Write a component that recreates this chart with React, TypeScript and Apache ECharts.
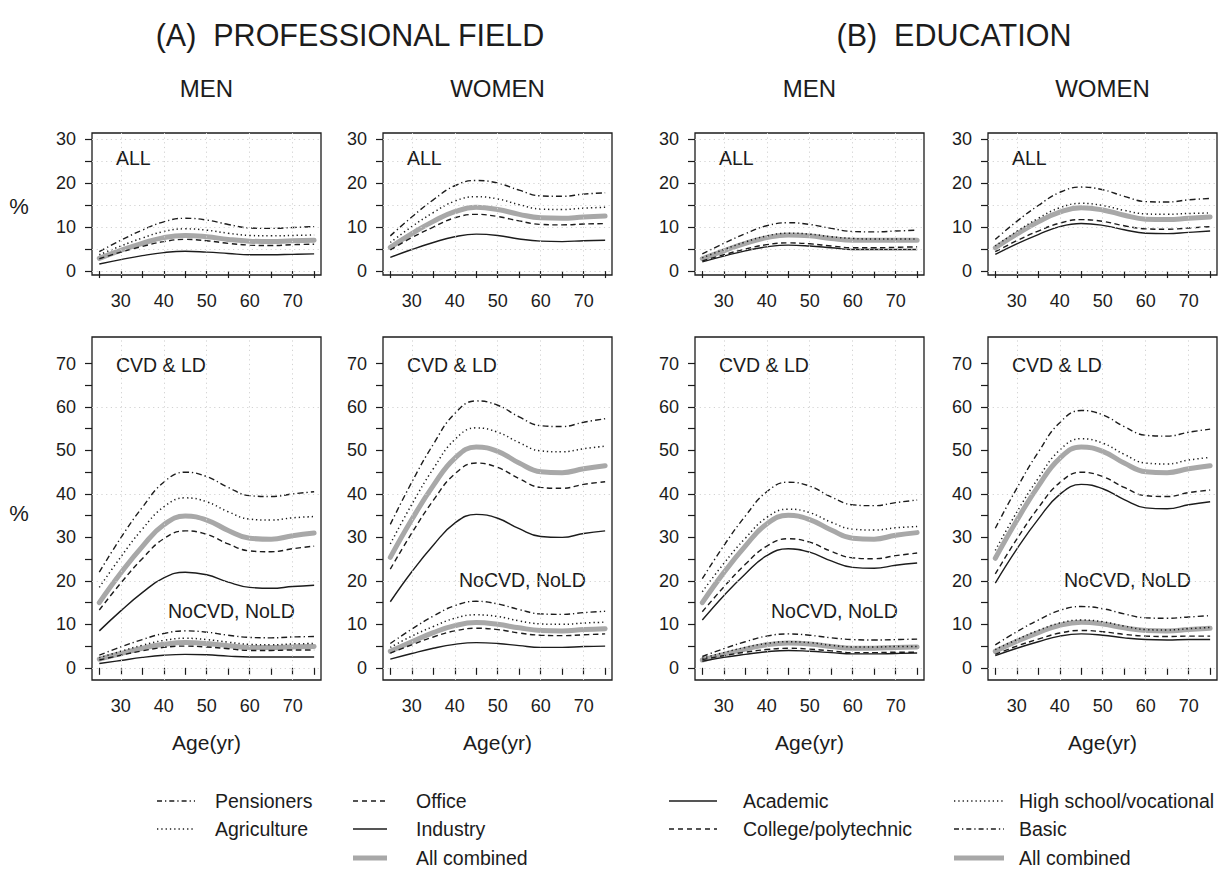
import React, { useEffect, useRef } from 'react';
import * as echarts from 'echarts';

// ---------------- DATA ----------------
const ages = [25, 30, 35, 40, 45, 50, 55, 60, 65, 70, 75];

const profGroups = ['Pensioners', 'Agriculture', 'Office', 'Industry', 'All combined'];
const eduGroups = ['Basic', 'High school/vocational', 'College/polytechnic', 'Academic', 'All combined'];

// (A) Professional field. Order: Pensioners, Agriculture, Office, Industry, All combined
const profMenAll = [
  [4.4, 7.0, 9.3, 11.2, 12.0, 11.6, 10.6, 9.8, 9.7, 9.9, 10.1],
  [3.7, 5.7, 7.5, 9.0, 9.6, 9.3, 8.6, 8.1, 8.0, 8.1, 8.2],
  [2.8, 4.3, 5.6, 6.7, 7.2, 6.9, 6.3, 5.9, 5.8, 6.0, 6.1],
  [1.6, 2.6, 3.5, 4.2, 4.5, 4.3, 4.0, 3.7, 3.7, 3.8, 3.9],
  [2.9, 4.7, 6.3, 7.6, 8.1, 7.8, 7.2, 6.8, 6.7, 6.9, 7.0],
];
const profWomenAll = [
  [8.0, 12.3, 16.2, 19.4, 20.6, 20.0, 18.4, 17.1, 17.0, 17.5, 17.8],
  [6.5, 10.1, 13.3, 15.9, 16.9, 16.4, 15.1, 14.1, 14.0, 14.3, 14.5],
  [4.8, 7.6, 10.0, 12.1, 12.9, 12.4, 11.4, 10.6, 10.5, 10.7, 10.8],
  [3.1, 4.9, 6.5, 7.8, 8.4, 8.1, 7.3, 6.8, 6.7, 6.9, 7.0],
  [5.4, 8.5, 11.3, 13.5, 14.5, 14.0, 12.9, 12.1, 12.0, 12.3, 12.5],
];
const profMenCvd = [
  [22.0, 29.9, 36.9, 42.7, 45.0, 44.0, 41.5, 39.6, 39.4, 40.0, 40.5],
  [18.5, 25.5, 31.9, 37.0, 39.1, 38.2, 35.9, 34.2, 34.0, 34.5, 34.8],
  [13.3, 19.5, 25.1, 29.7, 31.5, 30.7, 28.5, 26.9, 26.7, 27.4, 28.0],
  [8.5, 13.1, 17.3, 20.7, 22.0, 21.4, 19.7, 18.5, 18.3, 18.7, 19.0],
  [15.0, 21.8, 27.9, 32.9, 34.9, 34.0, 31.6, 29.8, 29.6, 30.4, 31.0],
];
const profMenNo = [
  [2.9, 4.8, 6.5, 7.9, 8.5, 8.2, 7.5, 7.0, 6.9, 7.1, 7.2],
  [2.3, 3.8, 5.2, 6.3, 6.8, 6.5, 5.9, 5.4, 5.3, 5.5, 5.6],
  [1.8, 2.9, 3.9, 4.7, 5.0, 4.8, 4.4, 4.0, 4.0, 4.1, 4.1],
  [1.0, 1.7, 2.4, 2.9, 3.1, 3.0, 2.7, 2.5, 2.5, 2.5, 2.5],
  [2.0, 3.3, 4.5, 5.4, 5.8, 5.6, 5.1, 4.7, 4.7, 4.8, 4.9],
];
const profWomenCvd = [
  [33.0, 42.7, 51.4, 58.5, 61.4, 60.4, 57.7, 55.7, 55.5, 56.5, 57.3],
  [28.5, 37.6, 45.8, 52.5, 55.2, 54.2, 51.8, 49.9, 49.7, 50.4, 51.0],
  [22.7, 31.0, 38.5, 44.6, 47.1, 46.1, 43.5, 41.5, 41.3, 42.2, 42.8],
  [15.2, 22.1, 28.2, 33.3, 35.3, 34.4, 32.0, 30.2, 30.0, 30.9, 31.5],
  [25.4, 34.1, 41.9, 48.2, 50.8, 49.8, 47.1, 45.1, 44.9, 45.8, 46.5],
];
const profWomenNo = [
  [5.6, 8.9, 11.9, 14.3, 15.3, 14.7, 13.4, 12.4, 12.3, 12.7, 13.0],
  [4.7, 7.3, 9.5, 11.4, 12.2, 11.8, 10.8, 10.1, 10.0, 10.3, 10.5],
  [3.4, 5.3, 7.1, 8.5, 9.1, 8.8, 8.0, 7.5, 7.4, 7.6, 7.8],
  [2.0, 3.3, 4.5, 5.4, 5.8, 5.6, 5.1, 4.7, 4.7, 4.9, 5.0],
  [3.8, 6.0, 8.1, 9.7, 10.4, 10.0, 9.2, 8.6, 8.5, 8.8, 9.0],
];

// (B) Education. Order: Basic, High school/vocational, College/polytechnic, Academic, All combined
const eduMenAll = [
  [3.9, 6.3, 8.5, 10.3, 11.0, 10.6, 9.7, 9.0, 8.9, 9.1, 9.3],
  [3.0, 4.9, 6.6, 8.0, 8.6, 8.4, 7.8, 7.4, 7.3, 7.3, 7.3],
  [2.3, 3.7, 5.0, 6.0, 6.4, 6.2, 5.7, 5.3, 5.3, 5.4, 5.5],
  [2.1, 3.4, 4.6, 5.5, 5.9, 5.7, 5.3, 4.9, 4.9, 4.9, 4.9],
  [2.8, 4.6, 6.3, 7.6, 8.2, 8.0, 7.4, 7.0, 7.0, 7.0, 7.0],
];
const eduWomenAll = [
  [7.2, 11.3, 14.9, 17.9, 19.1, 18.5, 17.0, 15.8, 15.7, 16.2, 16.5],
  [5.7, 9.0, 12.0, 14.4, 15.4, 14.9, 13.8, 13.0, 12.9, 13.1, 13.2],
  [4.4, 6.9, 9.1, 10.9, 11.7, 11.3, 10.3, 9.6, 9.5, 9.8, 10.1],
  [3.8, 6.2, 8.3, 10.1, 10.8, 10.4, 9.4, 8.6, 8.5, 8.8, 9.1],
  [5.3, 8.4, 11.2, 13.4, 14.4, 13.9, 12.7, 11.8, 11.7, 12.0, 12.3],
];
const eduMenCvd = [
  [20.5, 28.1, 34.9, 40.5, 42.7, 41.8, 39.3, 37.5, 37.3, 38.0, 38.6],
  [17.5, 24.0, 29.8, 34.6, 36.5, 35.7, 33.5, 31.9, 31.7, 32.2, 32.5],
  [12.9, 18.6, 23.8, 28.0, 29.7, 28.9, 26.8, 25.3, 25.1, 25.8, 26.4],
  [11.0, 16.6, 21.6, 25.8, 27.4, 26.6, 24.6, 23.1, 22.9, 23.6, 24.1],
  [15.0, 21.9, 28.0, 33.1, 35.1, 34.1, 31.7, 29.8, 29.6, 30.5, 31.1],
];
const eduMenNo = [
  [2.6, 4.4, 6.0, 7.3, 7.8, 7.5, 6.9, 6.5, 6.4, 6.5, 6.6],
  [2.2, 3.5, 4.7, 5.6, 6.0, 5.8, 5.2, 4.8, 4.8, 4.9, 4.9],
  [1.9, 2.8, 3.6, 4.2, 4.5, 4.3, 3.9, 3.5, 3.5, 3.6, 3.6],
  [1.5, 2.4, 3.1, 3.7, 4.0, 3.8, 3.5, 3.2, 3.2, 3.3, 3.4],
  [1.8, 3.1, 4.3, 5.3, 5.7, 5.5, 4.9, 4.5, 4.5, 4.7, 4.8],
];
const eduWomenCvd = [
  [32.1, 41.3, 49.6, 56.4, 59.2, 58.2, 55.5, 53.5, 53.3, 54.2, 54.9],
  [27.0, 35.8, 43.6, 50.1, 52.7, 51.7, 49.1, 47.1, 46.9, 47.8, 48.4],
  [21.6, 29.6, 36.8, 42.6, 45.0, 44.0, 41.5, 39.6, 39.4, 40.3, 40.9],
  [19.5, 27.3, 34.2, 39.9, 42.2, 41.2, 38.7, 36.8, 36.6, 37.5, 38.2],
  [25.2, 33.9, 41.8, 48.2, 50.8, 49.8, 47.1, 45.1, 44.9, 45.8, 46.5],
];
const eduWomenNo = [
  [5.3, 8.3, 11.0, 13.2, 14.1, 13.6, 12.4, 11.5, 11.4, 11.7, 12.0],
  [4.2, 6.5, 8.6, 10.3, 11.0, 10.6, 9.6, 8.8, 8.7, 9.0, 9.3],
  [3.1, 5.0, 6.6, 8.0, 8.6, 8.3, 7.7, 7.3, 7.2, 7.3, 7.3],
  [2.8, 4.5, 6.0, 7.3, 7.8, 7.5, 6.9, 6.5, 6.4, 6.5, 6.5],
  [3.8, 6.1, 8.1, 9.8, 10.5, 10.1, 9.2, 8.6, 8.5, 8.8, 9.1],
];

// tick labels
const xTicks = [25, 30, 35, 40, 45, 50, 55, 60, 65, 70, 75];
const xLabels = [30, 40, 50, 60, 70];
const yTopTicks = [0, 5, 10, 15, 20, 25, 30];
const yTopLabels = [0, 10, 20, 30];
const yBotTicks = [0, 5, 10, 15, 20, 25, 30, 35, 40, 45, 50, 55, 60, 65, 70];
const yBotLabels = [0, 10, 20, 30, 40, 50, 60, 70];
const xGridVals = [30, 40, 50, 60, 70];
const yTopGridVals = [0, 5, 10, 15, 20, 25, 30];
const yBotGridVals = [0, 20, 40, 60];

// ---------------- LAYOUT / STYLE ----------------
const FONT = '"Liberation Sans", Arial, Helvetica, sans-serif';
const INK = '#1c1c1c';
const GRAY = '#a8a8a8';
const COLS = [92, 383, 695, 988];
const FRAME_W = 229;
const X_MIN = 23.3;
const X_MAX = 76.6;
const ROWS = [
  { top: 133, height: 142, yMin: -0.9, yMax: 31.4, ticks: yTopTicks, labels: yTopLabels, grid: yTopGridVals },
  { top: 337, height: 343, yMin: -2.8, yMax: 76.1, ticks: yBotTicks, labels: yBotLabels, grid: yBotGridVals },
];

const DASHDOT = [6, 3, 1.3, 3];
const DOTTED = [1.3, 3];
const DASHED = [5.5, 3.5];

function lineStyleFor(k: number) {
  if (k === 4) return { color: GRAY, width: 5, type: 'solid' as any, cap: 'round' as any };
  if (k === 0) return { color: INK, width: 1.4, type: DASHDOT as any, cap: 'butt' as any };
  if (k === 1) return { color: INK, width: 1.5, type: DOTTED as any, cap: 'butt' as any };
  if (k === 2) return { color: INK, width: 1.4, type: DASHED as any, cap: 'butt' as any };
  return { color: INK, width: 1.4, type: 'solid' as any, cap: 'butt' as any };
}

// panels[row][col] -> datasets drawn in that panel
const panels = [
  [
    { sets: [profMenAll], names: profGroups },
    { sets: [profWomenAll], names: profGroups },
    { sets: [eduMenAll], names: eduGroups },
    { sets: [eduWomenAll], names: eduGroups },
  ],
  [
    { sets: [profMenCvd, profMenNo], names: profGroups },
    { sets: [profWomenCvd, profWomenNo], names: profGroups },
    { sets: [eduMenCvd, eduMenNo], names: eduGroups },
    { sets: [eduWomenCvd, eduWomenNo], names: eduGroups },
  ],
];

function txt(text: string, x: number, y: number, size: number, align = 'left', weight = 'normal') {
  return {
    type: 'text',
    x,
    y,
    silent: true,
    style: {
      text,
      fill: INK,
      fontSize: size,
      fontFamily: FONT,
      fontWeight: weight,
      align,
      textAlign: align,
      verticalAlign: 'middle',
      textVerticalAlign: 'middle',
    },
  };
}

function legLine(x1: number, x2: number, y: number, k: number) {
  const ls = lineStyleFor(k);
  const dash = k === 0 ? [5, 3, 1.3, 3] : k === 1 ? [1.3, 3] : k === 2 ? [5, 4] : null;
  return {
    type: 'line',
    silent: true,
    shape: { x1, y1: y, x2, y2: y },
    style: { stroke: ls.color, lineWidth: k === 4 ? 5 : 1.4, lineDash: dash || undefined },
  };
}

function buildOption() {
  const grid: any[] = [];
  const xAxis: any[] = [];
  const yAxis: any[] = [];
  const series: any[] = [];

  for (let r = 0; r < 2; r++) {
    const row = ROWS[r];
    for (let c = 0; c < 4; c++) {
      const g = grid.length;
      grid.push({
        left: COLS[c],
        top: row.top,
        width: FRAME_W,
        height: row.height,
        show: true,
        borderColor: INK,
        borderWidth: 1.3,
        backgroundColor: 'transparent',
        containLabel: false,
      });
      xAxis.push({
        type: 'value',
        gridIndex: g,
        min: X_MIN,
        max: X_MAX,
        axisLine: { show: false },
        splitLine: { show: false },
        axisTick: { show: true, length: 7, lineStyle: { color: INK, width: 1.2 }, customValues: xTicks },
        axisLabel: { customValues: xLabels, margin: 17, fontSize: 18, color: INK, fontFamily: FONT },
      });
      yAxis.push({
        type: 'value',
        gridIndex: g,
        min: row.yMin,
        max: row.yMax,
        axisLine: { show: false },
        splitLine: { show: false },
        axisTick: { show: true, length: 7, lineStyle: { color: INK, width: 1.2 }, customValues: row.ticks },
        axisLabel: { customValues: row.labels, margin: 16, fontSize: 18, color: INK, fontFamily: FONT },
      });
      // faint dotted reference grid
      series.push({
        type: 'line',
        xAxisIndex: g,
        yAxisIndex: g,
        data: ages.map((a) => [a, 0]),
        showSymbol: false,
        symbol: 'none',
        lineStyle: { opacity: 0, width: 0 },
        silent: true,
        z: 1,
        markLine: {
          silent: true,
          symbol: ['none', 'none'],
          label: { show: false },
          lineStyle: { color: '#d2d2d2', type: [1.2, 3.5], width: 1 },
          emphasis: { disabled: true },
          data: [
            ...xGridVals.map((v) => ({ xAxis: v })),
            ...row.grid.map((v) => ({ yAxis: v })),
          ],
        },
      });
      const p = panels[r][c];
      p.sets.forEach((set) => {
        [4, 0, 1, 2, 3].forEach((k) => {
          series.push({
            name: p.names[k],
            type: 'line',
            xAxisIndex: g,
            yAxisIndex: g,
            data: ages.map((a, i) => [a, set[k][i]]),
            smooth: 0.45,
            showSymbol: false,
            symbol: 'none',
            silent: true,
            lineStyle: lineStyleFor(k),
            z: k === 4 ? 2 : 3,
          });
        });
      });
    }
  }

  const centers = COLS.map((l) => l + FRAME_W / 2);
  const elements: any[] = [
    txt('(A)\u00a0\u00a0PROFESSIONAL FIELD', 350, 35, 30.5, 'center'),
    txt('(B)\u00a0\u00a0EDUCATION', 954, 35, 30.5, 'center'),
    txt('MEN', centers[0], 88, 24, 'center'),
    txt('WOMEN', centers[1], 88, 24, 'center'),
    txt('MEN', centers[2], 88, 24, 'center'),
    txt('WOMEN', centers[3], 88, 24, 'center'),
    txt('%', 19, 206, 22, 'center'),
    txt('%', 19, 513, 22, 'center'),
  ];
  COLS.forEach((l, c) => {
    elements.push(txt('ALL', l + 24, 158, 19.5));
    elements.push(txt('CVD & LD', l + 24, 365, 19.5));
    elements.push(txt('NoCVD, NoLD', l + 76, c % 2 === 0 ? 611 : 580, 19.5));
    elements.push(txt('Age(yr)', centers[c], 742, 21, 'center'));
  });
  // legends
  const ry = [801, 829, 858];
  elements.push(legLine(157, 195, ry[0], 0), txt('Pensioners', 215, ry[0], 19.5));
  elements.push(legLine(157, 195, ry[1], 1), txt('Agriculture', 215, ry[1], 19.5));
  elements.push(legLine(353, 387, ry[0], 2), txt('Office', 416, ry[0], 19.5));
  elements.push(legLine(353, 387, ry[1], 3), txt('Industry', 416, ry[1], 19.5));
  elements.push(legLine(353, 387, ry[2], 4), txt('All combined', 416, ry[2], 19.5));
  elements.push(legLine(669, 717, ry[0], 3), txt('Academic', 743, ry[0], 19.5));
  elements.push(legLine(669, 717, ry[1], 2), txt('College/polytechnic', 743, ry[1], 19.5));
  elements.push(legLine(954, 1004, ry[0], 1), txt('High school/vocational', 1019, ry[0], 19.5));
  elements.push(legLine(954, 1004, ry[1], 0), txt('Basic', 1019, ry[1], 19.5));
  elements.push(legLine(954, 1004, ry[2], 4), txt('All combined', 1019, ry[2], 19.5));

  return {
    animation: false,
    backgroundColor: '#ffffff',
    textStyle: { fontFamily: FONT },
    grid,
    xAxis,
    yAxis,
    series,
    graphic: { elements },
  };
}

export default function App() {
  const ref = useRef<HTMLDivElement>(null);
  useEffect(() => {
    if (!ref.current) return;
    const chart = echarts.init(ref.current, null, { renderer: 'svg' });
    chart.setOption(buildOption() as any);
    return () => chart.dispose();
  }, []);
  return (
    <div
      ref={ref}
      style={{ position: 'absolute', left: 0, top: 0, width: 1225, height: 869, background: '#fff' }}
    />
  );
}
